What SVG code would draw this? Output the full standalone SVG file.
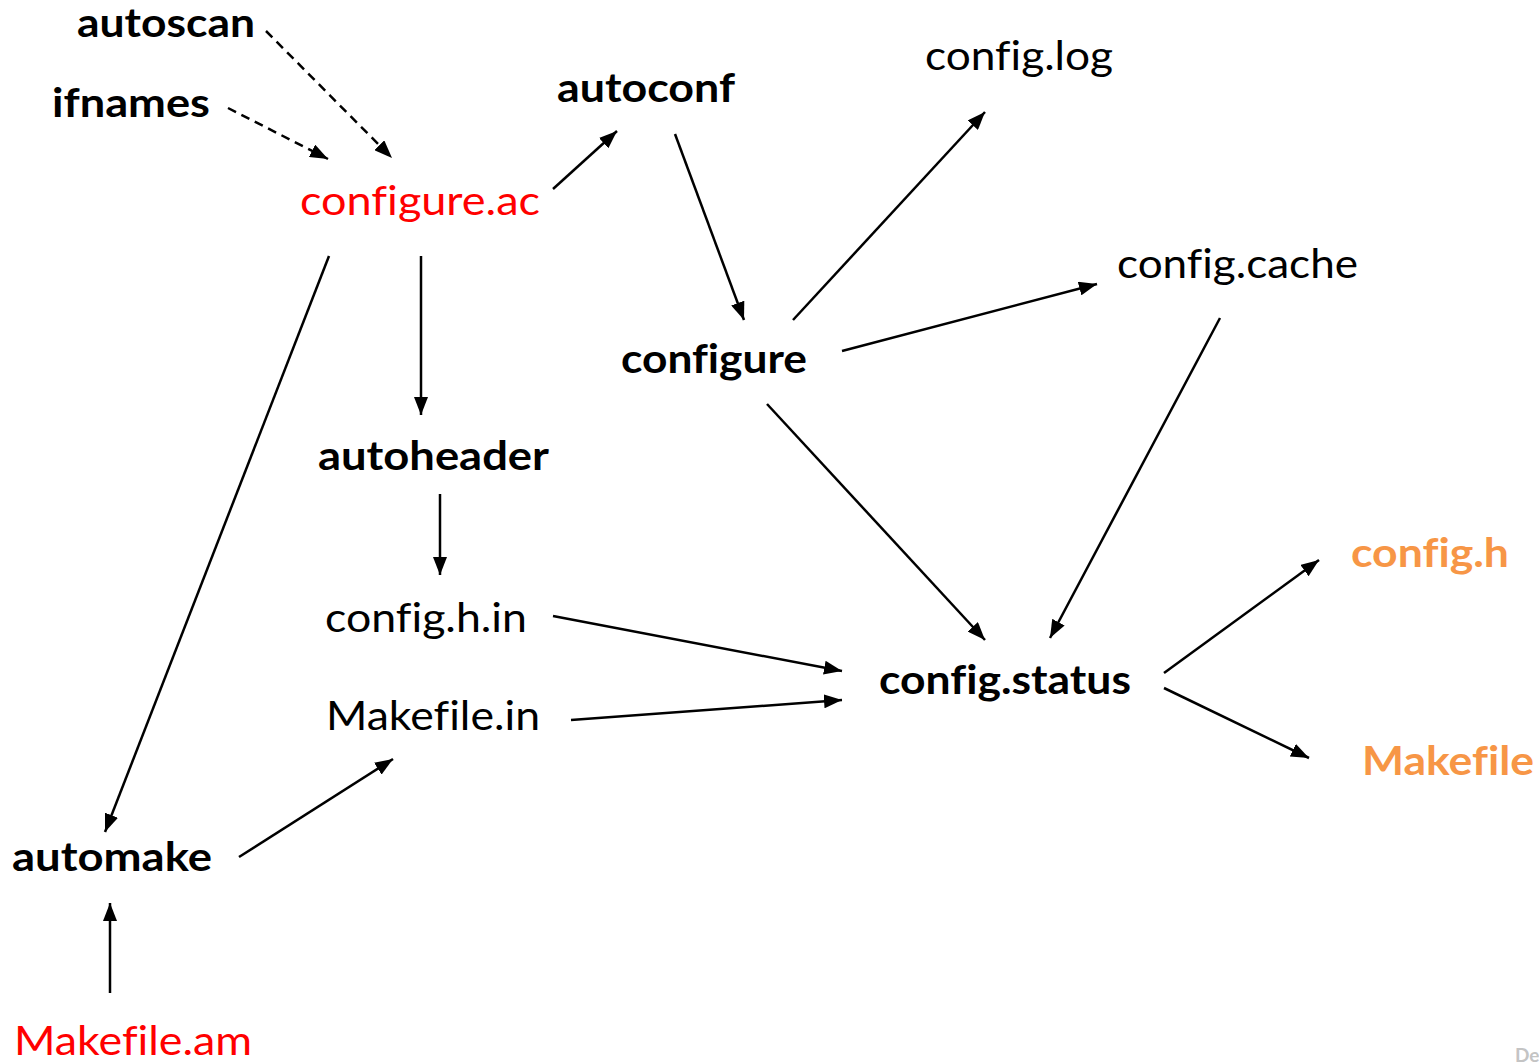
<svg xmlns="http://www.w3.org/2000/svg" width="1539" height="1064" viewBox="0 0 1539 1064">
  <style>
    text { font-family: Lato, "Open Sans", "Liberation Sans", sans-serif; font-size: 40px; fill: #000; font-variant-ligatures: none; }
    .tool { font-weight: bold; }
    .src { fill: #ff0000; }
    .out { fill: #f79646; font-weight: bold; }
    .edge { stroke: #000; stroke-width: 2.5; fill: none; marker-end: url(#head); }
    .dash { stroke-dasharray: 9 6; }
    .mark { font-size: 19px; font-weight: bold; fill: #c4c4c4; }
  </style>
  <defs>
    <marker id="head" markerUnits="userSpaceOnUse" markerWidth="18" markerHeight="14" refX="18" refY="7" orient="auto">
      <path d="M0,0 L18,7 L0,14 z" fill="#000"/>
    </marker>
  </defs>
  <rect width="1539" height="1064" fill="#fff"/>

  <!-- connectors -->
  <g id="connectors">
    <line class="edge dash" x1="266" y1="31" x2="392" y2="158"/>
    <line class="edge dash" x1="228" y1="108" x2="328" y2="159"/>
    <line class="edge" x1="553" y1="189" x2="617" y2="131"/>
    <line class="edge" x1="675" y1="134" x2="744" y2="320"/>
    <line class="edge" x1="793" y1="320" x2="985" y2="112"/>
    <line class="edge" x1="842" y1="351" x2="1097" y2="284"/>
    <line class="edge" x1="767" y1="404" x2="985" y2="640"/>
    <line class="edge" x1="1220" y1="318" x2="1050" y2="638"/>
    <line class="edge" x1="421" y1="256" x2="421" y2="415"/>
    <line class="edge" x1="440" y1="494" x2="440" y2="575"/>
    <line class="edge" x1="553" y1="616" x2="842" y2="671"/>
    <line class="edge" x1="571" y1="720" x2="842" y2="700"/>
    <line class="edge" x1="329" y1="256" x2="105" y2="832"/>
    <line class="edge" x1="239" y1="857" x2="393" y2="759"/>
    <line class="edge" x1="110" y1="993" x2="110" y2="903"/>
    <line class="edge" x1="1164" y1="673" x2="1319" y2="560"/>
    <line class="edge" x1="1164" y1="688" x2="1309" y2="758"/>
  </g>

  <!-- nodes -->
  <g id="autoscan"><text class="tool" x="77" y="37" textLength="178" lengthAdjust="spacingAndGlyphs">autoscan</text></g>
  <g id="ifnames"><text class="tool" x="52" y="117" textLength="158" lengthAdjust="spacingAndGlyphs">ifnames</text></g>
  <g id="configure-ac"><text class="src" x="300" y="215" textLength="240" lengthAdjust="spacingAndGlyphs">configure.ac</text></g>
  <g id="autoconf"><text class="tool" x="557" y="102" textLength="178" lengthAdjust="spacingAndGlyphs">autoconf</text></g>
  <g id="config-log"><text x="925" y="70" textLength="188" lengthAdjust="spacingAndGlyphs">config.log</text></g>
  <g id="config-cache"><text x="1117" y="278" textLength="241" lengthAdjust="spacingAndGlyphs">config.cache</text></g>
  <g id="configure"><text class="tool" x="621" y="373" textLength="186" lengthAdjust="spacingAndGlyphs">configure</text></g>
  <g id="autoheader"><text class="tool" x="318" y="470" textLength="231" lengthAdjust="spacingAndGlyphs">autoheader</text></g>
  <g id="config-h-in"><text x="325" y="632" textLength="202" lengthAdjust="spacingAndGlyphs">config.h.in</text></g>
  <g id="makefile-in"><text x="326" y="730" textLength="214" lengthAdjust="spacingAndGlyphs">Makefile.in</text></g>
  <g id="config-status"><text class="tool" x="879" y="694" textLength="252" lengthAdjust="spacingAndGlyphs">config.status</text></g>
  <g id="config-h"><text class="out" x="1351" y="567" textLength="158" lengthAdjust="spacingAndGlyphs">config.h</text></g>
  <g id="makefile"><text class="out" x="1362" y="775" textLength="172" lengthAdjust="spacingAndGlyphs">Makefile</text></g>
  <g id="automake"><text class="tool" x="12" y="871" textLength="200" lengthAdjust="spacingAndGlyphs">automake</text></g>
  <g id="makefile-am"><text class="src" x="14" y="1055" textLength="238" lengthAdjust="spacingAndGlyphs">Makefile.am</text></g>

  <text class="mark" x="1515" y="1062">De</text>
</svg>
